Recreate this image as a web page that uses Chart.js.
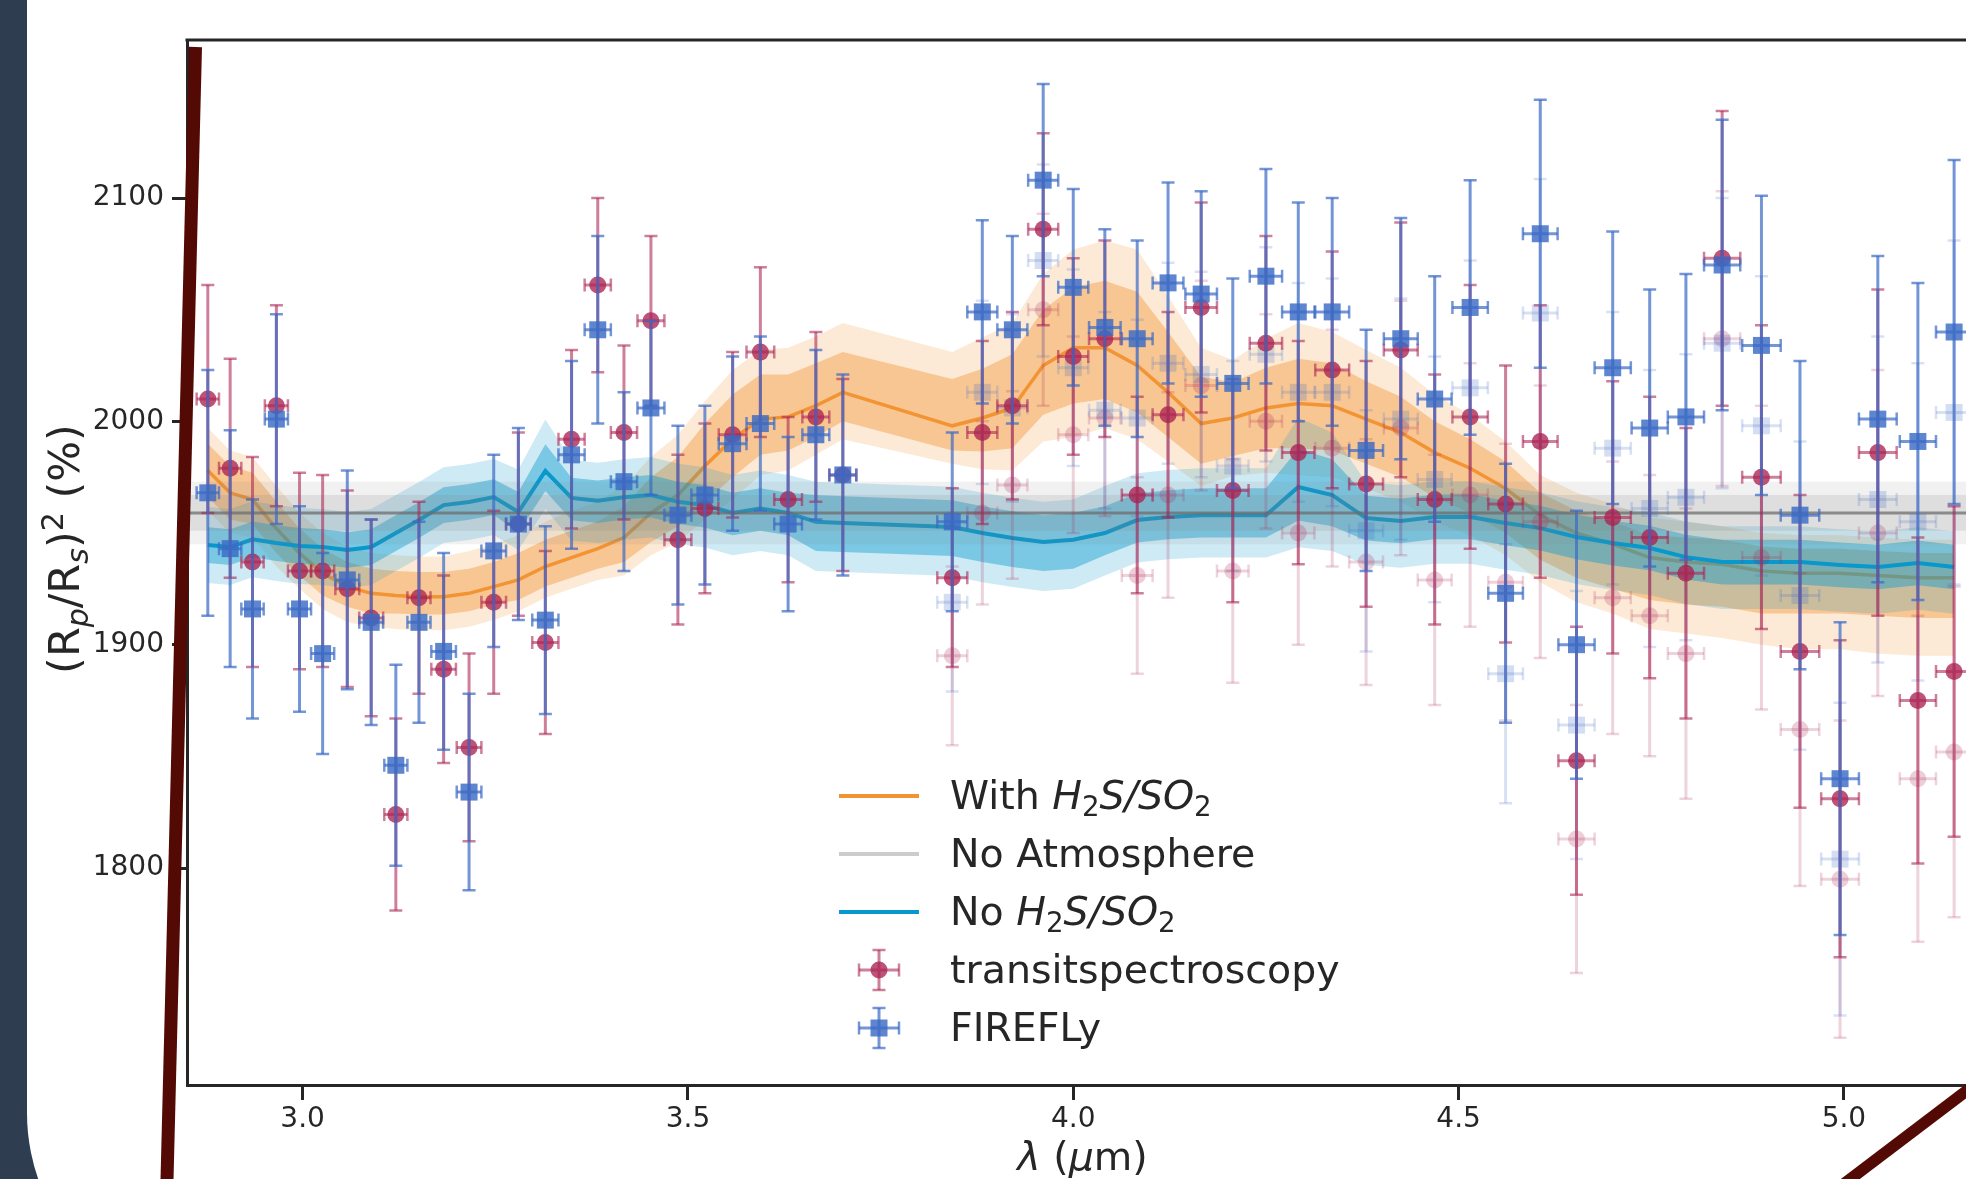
<!DOCTYPE html>
<html lang="en">
<head>
    <meta charset="UTF-8">
    <title>Transmission spectrum - H2S/SO2 models</title>
    <script src="https://cdn.jsdelivr.net/npm/chart.js@4.4.0/dist/chart.umd.min.js"></script>
    <style>
        html, body {
            margin: 0;
            padding: 0;
        }

        body {
            width: 1966px;
            height: 1179px;
            overflow: hidden;
            position: relative;
            background: #2e3e50;
        }

        .panel {
            position: absolute;
            left: 27px;
            top: -100px;
            width: 2100px;
            height: 1413px;
            background: #ffffff;
            border-bottom-left-radius: 200px;
        }

        #spectrum {
            position: absolute;
            left: 0;
            top: 0;
        }

        .strokes {
            position: absolute;
            left: 0;
            top: 0;
            pointer-events: none;
        }
    </style>
</head>
<body>
    <div class="panel"></div>
    <canvas id="spectrum" width="1990" height="1179"></canvas>
    <svg class="strokes" width="1966" height="1179">
        <line x1="195.5" y1="47" x2="166.5" y2="1200" stroke="#530a05" stroke-width="13"/>
        <line x1="1820" y1="1202" x2="2000" y2="1065.5" stroke="#530a05" stroke-width="11.5"/>
    </svg>

    <script>
        // wavelength bins (micron); NRS2 starts at index 26
        const NRS2 = 26;
        const lam = [2.877, 2.906, 2.935, 2.966, 2.996, 3.026, 3.058, 3.089, 3.121, 3.151,
                     3.183, 3.216, 3.248, 3.280, 3.315, 3.349, 3.383, 3.417, 3.452, 3.487,
                     3.522, 3.558, 3.594, 3.630, 3.666, 3.701, 3.843, 3.882, 3.921, 3.961,
                     4.000, 4.041, 4.083, 4.123, 4.166, 4.207, 4.250, 4.292, 4.336, 4.380,
                     4.425, 4.469, 4.515, 4.561, 4.606, 4.653, 4.700, 4.748, 4.795, 4.842,
                     4.893, 4.943, 4.995, 5.044, 5.096, 5.143];

        // transitspectroscopy reduction
        const tsDepth = [2010, 1979, 1937, 2007, 1933, 1933, 1925, 1912, 1824, 1921,
                         1889, 1854, 1919, 1954, 1901, 1992, 2061, 1995, 2045, 1947,
                         1961, 1994, 2031, 1965, 2002, 1976, 1930, 1995, 2007, 2086,
                         2029, 2037, 1967, 2003, 2051, 1969, 2035, 1986, 2023, 1972,
                         2032, 1965, 2002, 1963, 1991, 1848, 1957, 1948, 1932, 2073,
                         1975, 1897, 1831, 1986, 1875, 1888];
        const tsErr = [51, 49, 47, 45, 44, 43, 44, 44, 43, 43,
                       42, 42, 41, 41, 41, 40, 39, 39, 38, 38,
                       38, 37, 38, 37, 38, 43, 40, 41, 42, 43,
                       44, 44, 44, 46, 47, 50, 48, 50, 53, 55,
                       57, 56, 59, 62, 61, 60, 61, 63, 65, 66,
                       68, 70, 71, 73, 73, 74];
        // NRS2 points before the offset correction (faded)
        const tsRaw = [1895, 1959, 1971.5, 2050, 1994, 2001.5, 1931, 1967, 2016, 1933,
                       2000, 1950, 1988, 1937, 1997, 1929, 1967, 1928, 1955, 1813,
                       1921, 1913, 1896, 2037, 1939, 1862, 1795, 1950, 1840, 1852];

        // FIREFLy reduction
        const ffDepth = [1968, 1943, 1916, 2001, 1916, 1896, 1929, 1910, 1846, 1910,
                         1897, 1834, 1942, 1954, 1911, 1985, 2041, 1973, 2006, 1958,
                         1967, 1990, 1999, 1954, 1994, 1976, 1955, 2049, 2041, 2108,
                         2060, 2042, 2037, 2062, 2057, 2017, 2065, 2049, 2049, 1987,
                         2037, 2010, 2051, 1923, 2084, 1900, 2024, 1997, 2002, 2070,
                         2034, 1958, 1840, 2001, 1991, 2040];
        const ffErr = [55, 53, 49, 47, 46, 45, 49, 46, 45, 45,
                       44, 44, 43, 43, 42, 42, 42, 40, 39, 40,
                       40, 39, 39, 39, 38, 45, 40, 41, 42, 43,
                       44, 44, 44, 45, 46, 47, 48, 49, 51, 54,
                       54, 55, 57, 58, 60, 60, 61, 62, 64, 65,
                       67, 69, 70, 73, 71, 77];
        const ffRaw = [1919, 2013, 2006, 2072, 2024, 2005, 2001.5, 2026, 2021, 1980,
                       2030, 2013, 2013, 1951, 2001, 1974, 2015, 1887, 2048.5, 1864,
                       1988, 1961, 1966, 2035, 1998, 1922, 1804, 1965, 1955, 2004];

        // model "With H2S/SO2": median and 1/2 sigma offsets
        const withMed = [1978, 1968, 1965, 1952, 1941, 1932, 1926, 1923, 1922, 1921.5,
                         1921.5, 1923, 1926, 1929, 1935, 1939, 1943, 1948, 1959, 1967,
                         1980, 1992, 2001, 2002, 2007, 2013, 1998, 2001.5, 2006, 2025,
                         2033, 2033, 2025, 2013, 1999, 2001.5, 2006, 2008, 2007, 2001,
                         1995, 1986, 1979, 1970, 1958, 1950, 1945, 1939, 1937, 1936,
                         1933, 1932, 1932, 1931, 1930, 1930];
        const withUp1 = [12, 12, 12, 12, 11, 11, 11, 11, 11, 11, 11, 11, 11, 12, 12, 12, 12, 14, 16, 17,
                         19, 20, 20, 19, 19, 18, 21, 22, 24, 25, 27, 30, 33, 27, 21, 16, 18, 20, 19, 17,
                         16, 14, 13, 12, 10, 10, 10, 10, 11, 11, 11, 11, 11, 11, 11, 11];
        const withDn1 = [12, 12, 11, 11, 10, 10, 9, 9, 8, 8, 8, 8, 8, 9, 9, 9, 9, 11, 13, 14,
                         16, 17, 16, 15, 14, 13, 11, 15, 18, 22, 25, 23, 21, 20, 18, 17, 18, 20, 20, 20,
                         20, 20, 20, 20, 20, 20, 20, 19, 19, 19, 19, 18, 18, 18, 18, 18];
        const withUp2 = [19, 19, 19, 19, 18, 18, 18, 18, 18, 18, 18, 19, 19, 20, 20, 21, 21, 23, 25, 27,
                         29, 31, 31, 31, 31, 31, 33, 36, 38, 41, 44, 48, 52, 43, 34, 26, 31, 36, 33, 31,
                         29, 26, 24, 21, 18, 18, 18, 18, 18, 17, 17, 17, 17, 17, 17, 17];
        const withDn2 = [18, 18, 17, 17, 16, 16, 16, 15, 15, 15, 15, 15, 15, 14, 14, 14, 14, 17, 19, 21,
                         24, 27, 25, 24, 22, 21, 17, 23, 28, 34, 40, 36, 33, 31, 28, 26, 29, 32, 32, 31,
                         31, 31, 30, 30, 30, 31, 31, 32, 32, 33, 33, 34, 34, 35, 35, 35];

        // model "No H2S/SO2"
        const noMed = [1944.6, 1943.7, 1947.2, 1945.5, 1944.2, 1943.7, 1942.4, 1943.7, 1950, 1955.8,
                       1962.5, 1963.9, 1966.1, 1959.4, 1977.8, 1965.7, 1964.5, 1966, 1967, 1964,
                       1962.5, 1959, 1961, 1959, 1955, 1954.5, 1952.7, 1950, 1947.8, 1946,
                       1947, 1950, 1955.8, 1957.2, 1958, 1958, 1958, 1970.6, 1967, 1956.7,
                       1955.4, 1957.2, 1957.2, 1954.5, 1952.2, 1948.2, 1945.5, 1943.3, 1939.2, 1937,
                       1937, 1937, 1935.7, 1934.8, 1936.6, 1934.8];
        const noUp1 = [8, 8, 8, 8, 8, 8, 8, 8, 8, 8, 8, 8, 8, 9, 12, 9, 9, 9, 9, 9,
                       9, 9, 9, 9, 12, 12, 12, 12, 12, 12, 12, 12, 12, 12, 12, 12, 12, 17, 16, 10,
                       10, 10, 10, 10, 10, 10, 10, 10, 10, 10, 10, 10, 10, 10, 10, 10];
        const noDn1 = [8, 8, 8, 8, 8, 8, 8, 8, 8, 8, 8, 8, 8, 9, 9, 10, 10, 10, 10, 10,
                       10, 10, 10, 10, 13, 13, 13, 13, 13, 13, 13, 10, 10, 10, 10, 10, 10, 15, 14, 10,
                       10, 10, 10, 10, 10, 10, 10, 10, 10, 10, 10, 10, 10, 10, 10, 10];
        const noUp2 = [17, 17, 17, 17, 17, 17, 17, 17, 17, 17, 17, 17, 17, 19, 23, 17, 17, 17, 17, 17,
                       17, 17, 17, 17, 18, 18, 18, 18, 18, 18, 18, 21, 21, 21, 21, 21, 21, 31, 28, 16,
                       16, 16, 16, 16, 16, 16, 16, 16, 16, 16, 16, 16, 16, 16, 16, 16];
        const noDn2 = [17, 17, 17, 17, 17, 17, 17, 17, 17, 17, 17, 17, 17, 17, 17, 19, 19, 19, 19, 19,
                       19, 19, 19, 19, 22, 22, 22, 22, 22, 22, 22, 19, 19, 19, 19, 19, 19, 27, 25, 21,
                       21, 21, 21, 21, 21, 21, 21, 21, 21, 21, 21, 21, 21, 21, 21, 21];

        // flat "No Atmosphere" model
        const flatLam = [2.80, 5.30];
        const flatMed = [1959, 1959];
        const flatLo1 = [1951, 1951];
        const flatHi1 = [1967, 1967];
        const flatLo2 = [1945, 1945];
        const flatHi2 = [1973, 1973];

        const xTicks = [3.0, 3.5, 4.0, 4.5, 5.0];
        const yTicks = [1800, 1900, 2000, 2100];
        const xRange = [2.850, 5.174];
        const yRange = [1702.85, 2170.75];

        const FAM = "'DejaVu Sans'";
        const INK = '#262626';
        const ORANGE = '#f29434';
        const CYAN = '#0898cc';
        const RED = 'rgba(170,34,82,0.78)';
        const RED_BAR = 'rgba(170,34,82,0.58)';
        const BLUE = 'rgba(58,106,196,0.82)';
        const BLUE_BAR = 'rgba(58,106,196,0.7)';

        // half bin widths from the bin spacing
        const halfBin = lam.map((v, i) => {
            const gaps = [];
            if (i > 0) gaps.push(v - lam[i - 1]);
            if (i < lam.length - 1) gaps.push(lam[i + 1] - v);
            return Math.min(...gaps) / 2;
        });

        const pts = (xs, ys) => xs.map((x, i) => ({ x: x, y: ys[i] }));
        const shift = (base, off, sign) => base.map((v, i) => v + sign * off[i]);

        const datasets = [];

        function addBand(xs, lo, hi, color, order) {
            const hiIdx = datasets.length;
            datasets.push({ type: 'line', data: pts(xs, hi), borderColor: 'rgba(0,0,0,0)', pointRadius: 0, fill: false, order: order });
            datasets.push({ type: 'line', data: pts(xs, lo), borderColor: 'rgba(0,0,0,0)', pointRadius: 0, fill: hiIdx, backgroundColor: color, order: order });
        }

        // models: orange first (bottom), then cyan, then grey
        addBand(lam, shift(withMed, withDn2, -1), shift(withMed, withUp2, 1), 'rgba(242,148,52,0.2)', 30);
        addBand(lam, shift(withMed, withDn1, -1), shift(withMed, withUp1, 1), 'rgba(242,148,52,0.42)', 29);
        datasets.push({ type: 'line', data: pts(lam, withMed), borderColor: ORANGE, borderWidth: 3.5, pointRadius: 0, order: 28 });

        addBand(lam, shift(noMed, noDn2, -1), shift(noMed, noUp2, 1), 'rgba(8,152,204,0.2)', 27);
        addBand(lam, shift(noMed, noDn1, -1), shift(noMed, noUp1, 1), 'rgba(8,152,204,0.42)', 26);
        datasets.push({ type: 'line', data: pts(lam, noMed), borderColor: CYAN, borderWidth: 4, pointRadius: 0, order: 25 });

        addBand(flatLam, flatLo2, flatHi2, 'rgba(128,128,128,0.11)', 24);
        addBand(flatLam, flatLo1, flatHi1, 'rgba(128,128,128,0.17)', 23);
        datasets.push({ type: 'line', data: pts(flatLam, flatMed), borderColor: 'rgba(110,110,110,0.75)', borderWidth: 3, pointRadius: 0, order: 22 });

        // data points
        const nrsLam = lam.slice(NRS2);
        datasets.push({ data: pts(nrsLam, tsRaw), pointStyle: 'circle', pointRadius: 8.5, backgroundColor: 'rgba(170,34,82,0.22)', borderWidth: 0,
                        errY: tsErr.slice(NRS2), errX: halfBin.slice(NRS2), barColor: 'rgba(170,34,82,0.2)', order: 14 });
        datasets.push({ data: pts(nrsLam, ffRaw), pointStyle: 'rect', pointRadius: 12, backgroundColor: 'rgba(58,106,196,0.22)', borderWidth: 0,
                        errY: ffErr.slice(NRS2), errX: halfBin.slice(NRS2), barColor: 'rgba(58,106,196,0.2)', order: 13 });
        datasets.push({ data: pts(lam, tsDepth), pointStyle: 'circle', pointRadius: 8.5, backgroundColor: RED, borderWidth: 0,
                        errY: tsErr, errX: halfBin, barColor: RED_BAR, order: 12 });
        datasets.push({ data: pts(lam, ffDepth), pointStyle: 'rect', pointRadius: 12, backgroundColor: BLUE, borderWidth: 0,
                        errY: ffErr, errX: halfBin, barColor: BLUE_BAR, order: 11 });

        function drawCross(ctx, px, py, l, r, top, bot, color) {
            ctx.strokeStyle = color;
            ctx.lineWidth = 3;
            ctx.beginPath();
            ctx.moveTo(px, top); ctx.lineTo(px, bot);
            ctx.moveTo(l, py); ctx.lineTo(r, py);
            ctx.stroke();
            ctx.lineWidth = 2.5;
            ctx.beginPath();
            ctx.moveTo(px - 6.5, top); ctx.lineTo(px + 6.5, top);
            ctx.moveTo(px - 6.5, bot); ctx.lineTo(px + 6.5, bot);
            ctx.moveTo(l, py - 6.5); ctx.lineTo(l, py + 6.5);
            ctx.moveTo(r, py - 6.5); ctx.lineTo(r, py + 6.5);
            ctx.stroke();
        }

        const errorBars = {
            id: 'errorBars',
            beforeDatasetDraw(chart, args) {
                const ds = chart.data.datasets[args.index];
                if (!ds.errY) return;
                const { ctx, chartArea: a } = chart;
                const xs = chart.scales.x, ys = chart.scales.y;
                ctx.save();
                ctx.beginPath();
                ctx.rect(a.left, a.top, a.right - a.left, a.bottom - a.top);
                ctx.clip();
                ds.data.forEach((p, i) => {
                    drawCross(ctx,
                        xs.getPixelForValue(p.x), ys.getPixelForValue(p.y),
                        xs.getPixelForValue(p.x - ds.errX[i]), xs.getPixelForValue(p.x + ds.errX[i]),
                        ys.getPixelForValue(p.y + ds.errY[i]), ys.getPixelForValue(p.y - ds.errY[i]),
                        ds.barColor);
                });
                ctx.restore();
            }
        };

        // text with italic / sub / superscript pieces
        function richText(ctx, parts, x, y, size, measureOnly) {
            let cx = x;
            for (const [t, st] of parts) {
                let dy = 0, sz = size, it = '';
                if (st === 'i') it = 'italic ';
                if (st === 'sub' || st === 'isub') { sz = size * 0.7; dy = size * 0.2; }
                if (st === 'isub') it = 'italic ';
                if (st === 'sup') { sz = size * 0.7; dy = -size * 0.38; }
                ctx.font = it + sz + 'px ' + FAM;
                if (!measureOnly) ctx.fillText(t, cx, y + dy);
                cx += ctx.measureText(t).width;
            }
            return cx - x;
        }

        const legendRows = [
            { kind: 'line', color: ORANGE, parts: [['With ', 'n'], ['H', 'i'], ['2', 'sub'], ['S/SO', 'i'], ['2', 'sub']] },
            { kind: 'line', color: '#cccccc', parts: [['No Atmosphere', 'n']] },
            { kind: 'line', color: CYAN, parts: [['No ', 'n'], ['H', 'i'], ['2', 'sub'], ['S/SO', 'i'], ['2', 'sub']] },
            { kind: 'circle', color: RED, bar: RED_BAR, parts: [['transitspectroscopy', 'n']] },
            { kind: 'rect', color: BLUE, bar: BLUE_BAR, parts: [['FIREFLy', 'n']] }
        ];

        const decorations = {
            id: 'decorations',
            afterDraw(chart) {
                const { ctx, chartArea: a } = chart;
                ctx.save();
                // top spine
                ctx.strokeStyle = INK;
                ctx.lineWidth = 3;
                ctx.beginPath();
                ctx.moveTo(a.left - 1.5, a.top);
                ctx.lineTo(a.right, a.top);
                ctx.stroke();

                ctx.fillStyle = INK;
                ctx.textBaseline = 'alphabetic';

                // x title
                const xParts = [['λ', 'i'], [' (', 'n'], ['μ', 'i'], ['m)', 'n']];
                const xw = richText(ctx, xParts, 0, 0, 39.5, true);
                richText(ctx, xParts, (a.left + a.right) / 2 - xw / 2, 1170, 39.5);

                // y title
                const yParts = [['(R', 'n'], ['p', 'isub'], ['/R', 'n'], ['s', 'isub'], [')', 'n'], ['2', 'sup'], [' (%)', 'n']];
                const yw = richText(ctx, yParts, 0, 0, 43, true);
                ctx.save();
                ctx.translate(79, 549);
                ctx.rotate(-Math.PI / 2);
                richText(ctx, yParts, -yw / 2, 0, 43);
                ctx.restore();

                // legend
                const hx0 = 839, hx1 = 919, hxc = 879, tx = 950;
                legendRows.forEach((row, i) => {
                    const yc = 796 + i * 58;
                    if (row.kind === 'line') {
                        ctx.strokeStyle = row.color;
                        ctx.lineWidth = 4;
                        ctx.beginPath();
                        ctx.moveTo(hx0, yc);
                        ctx.lineTo(hx1, yc);
                        ctx.stroke();
                    } else {
                        drawCross(ctx, hxc, yc, hxc - 20, hxc + 20, yc - 20, yc + 20, row.bar);
                        ctx.fillStyle = row.color;
                        ctx.beginPath();
                        if (row.kind === 'circle') ctx.arc(hxc, yc, 8.5, 0, Math.PI * 2);
                        else ctx.rect(hxc - 8.5, yc - 8.5, 17, 17);
                        ctx.fill();
                    }
                    ctx.fillStyle = INK;
                    richText(ctx, row.parts, tx, yc + 12.5, 39.5);
                });
                ctx.restore();
            }
        };

        Chart.defaults.font.family = FAM;

        new Chart(document.getElementById('spectrum'), {
            type: 'scatter',
            data: { datasets: datasets },
            options: {
                responsive: false,
                animation: false,
                devicePixelRatio: 1,
                events: [],
                layout: { padding: { top: 40, left: 0, right: 3, bottom: 0 } },
                elements: { line: { tension: 0 } },
                plugins: {
                    legend: { display: false },
                    tooltip: { enabled: false }
                },
                scales: {
                    x: {
                        type: 'linear',
                        min: xRange[0],
                        max: xRange[1],
                        afterBuildTicks: s => { s.ticks = xTicks.map(v => ({ value: v })); },
                        afterFit: s => { s.height = 94; },
                        ticks: {
                            color: INK,
                            font: { size: 28 },
                            padding: 3,
                            maxRotation: 0,
                            autoSkip: false,
                            callback: v => Number(v).toFixed(1)
                        },
                        grid: { drawOnChartArea: false, drawTicks: true, tickLength: 15, tickWidth: 3, tickColor: INK },
                        border: { display: true, width: 3, color: INK }
                    },
                    y: {
                        type: 'linear',
                        min: yRange[0],
                        max: yRange[1],
                        afterBuildTicks: s => { s.ticks = yTicks.map(v => ({ value: v })); },
                        afterFit: s => { s.width = 187; },
                        ticks: {
                            color: INK,
                            font: { size: 28 },
                            padding: 8,
                            autoSkip: false,
                            callback: v => String(v)
                        },
                        grid: { drawOnChartArea: false, drawTicks: true, tickLength: 15, tickWidth: 3, tickColor: INK },
                        border: { display: true, width: 3, color: INK }
                    }
                }
            },
            plugins: [errorBars, decorations]
        });
    </script>
</body>
</html>
